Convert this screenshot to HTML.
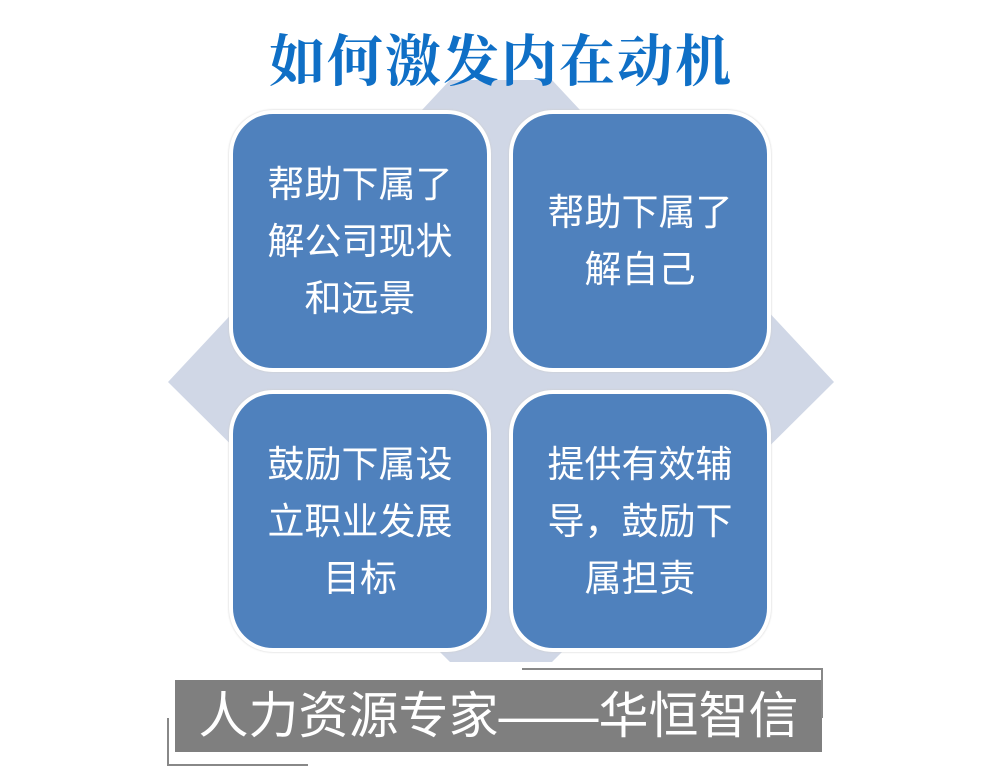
<!DOCTYPE html>
<html><head><meta charset="utf-8"><style>
html,body{margin:0;padding:0;background:#fff;}
body{width:1002px;height:772px;position:relative;overflow:hidden;font-family:"Liberation Sans","Noto Sans CJK SC",sans-serif;}
.box{position:absolute;width:254px;height:254px;background:#4f81bd;border:4px solid #fff;border-radius:44px;box-sizing:content-box;display:flex;align-items:center;justify-content:center;text-align:center;color:#fff;font-size:37px;line-height:57px;box-shadow:0 0 2px #ccc;}
.box div{width:200px;}
</style></head><body>
<svg width="1002" height="772" style="position:absolute;left:0;top:0">
<polygon points="450,80 552,80 834,382 552,662 450,662 168,382" fill="#d0d7e6"/>
<rect x="175" y="680" width="647" height="72" fill="#7f7f7f"/>
<polyline points="522,669 822,669 822,718" fill="none" stroke="#888" stroke-width="2"/>
<polyline points="168,718 168,765 308,765" fill="none" stroke="#888" stroke-width="2"/>
</svg>
<div style="position:absolute;left:0;top:28px;width:1002px;text-align:center;color:#0f6fc6;font-weight:bold;font-size:56px;line-height:70px;font-family:'Liberation Serif','Noto Serif CJK SC',serif;letter-spacing:2px;">如何激发内在动机</div>
<div class="box" style="left:229px;top:110px"><div>帮助下属了解公司现状和远景</div></div>
<div class="box" style="left:509px;top:110px"><div>帮助下属了解自己</div></div>
<div class="box" style="left:229px;top:390px"><div>鼓励下属设立职业发展目标</div></div>
<div class="box" style="left:509px;top:390px"><div>提供有效辅导，鼓励下属担责</div></div>
<div style="position:absolute;left:175px;top:680px;width:647px;height:72px;line-height:72px;text-align:center;color:#fff;font-size:50px;">人力资源专家——华恒智信</div>
</body></html>
